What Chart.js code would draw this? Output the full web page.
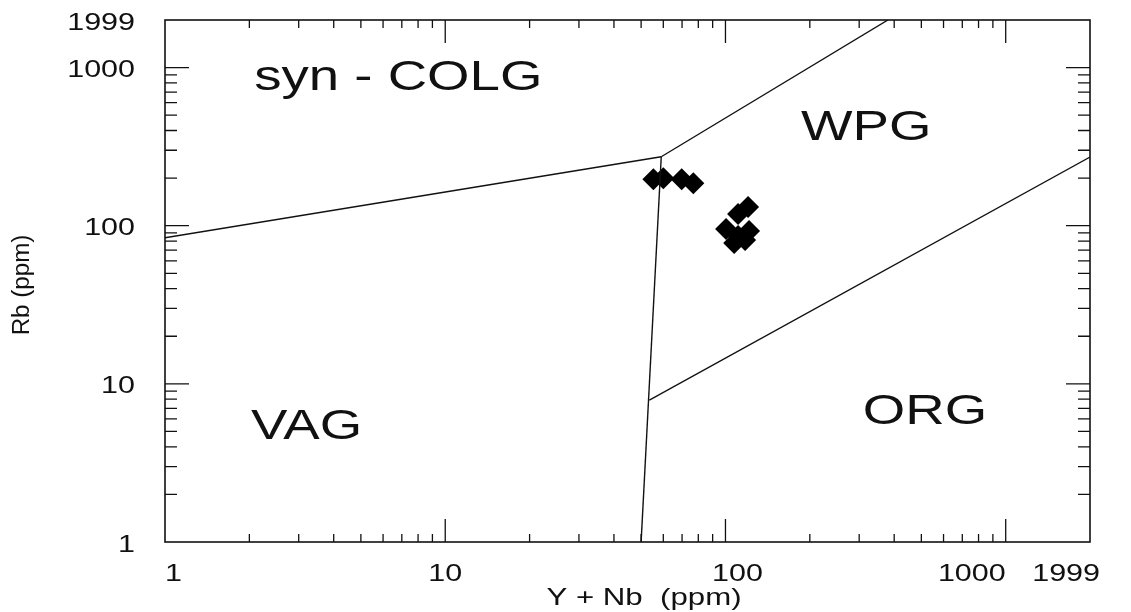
<!DOCTYPE html>
<html>
<head>
<meta charset="utf-8">
<script src="https://cdn.jsdelivr.net/npm/chart.js@4.4.1/dist/chart.umd.min.js"></script>
<style>
  html, body { margin: 0; padding: 0; background: #fff; }
  #wrap { width: 1131px; height: 612px; position: relative; }
</style>
</head>
<body>
<div id="wrap"><canvas id="rbChart"></canvas></div>
<script>
// Axis ticks (log scales, both axes 1 .. 1999)
const tickValues = [1, 10, 100, 1000, 1999];
const tickLabels = ["1", "10", "100", "1000", "1999"];

// Field boundaries, [Y+Nb, Rb]
const colgVagLine = [[1, 84], [59, 273]];
const colgWpgLine = [[59, 273], [380, 1999]];
const vagWpgLine  = [[59, 273], [50, 1]];
const wpgOrgLine  = [[53.5, 7.9], [1999, 272]];

// Samples
const sampleYNb = [55.3, 60.0, 69.8, 76.8, 100.5, 107.4, 121.4, 117.5, 110.9, 110.9, 120.4];
const sampleRb  = [196.8, 199.6, 196.8, 185.7, 95.5, 77.8, 92.7, 81.3, 86.2, 118.8, 131.5];

// Field names and where they sit (data coords)
const fieldNames = ["syn - COLG", "WPG", "VAG", "ORG"];
const fieldX     = [6.8, 318, 3.2, 515];
const fieldY     = [860, 415, 5.3, 6.6];

const FONT = '"Liberation Sans", Arial, sans-serif';

function toPts(arr) {
    return arr.map(p => ({ x: p[0], y: p[1] }));
}

function lineSet(arr) {
    return {
        data: toPts(arr),
        showLine: true,
        borderColor: "#111",
        borderWidth: 1.4,
        pointRadius: 0,
        fill: false
    };
}

// stretched text, the scan font is wide
function wideText(ctx, txt, x, y, size, align, stretch) {
    ctx.save();
    ctx.translate(x, y);
    ctx.scale(stretch, 1);
    ctx.font = size + "px " + FONT;
    ctx.textAlign = align;
    ctx.textBaseline = "middle";
    ctx.fillStyle = "#111";
    ctx.fillText(txt, 0, 0);
    ctx.restore();
}

const framePlugin = {
    id: "frame",
    afterDatasetsDraw(chart) {
        const ctx = chart.ctx;
        const a = chart.chartArea;
        const xs = chart.scales.x, ys = chart.scales.y;

        ctx.save();
        ctx.strokeStyle = "#111";
        ctx.lineWidth = 1.6;
        ctx.strokeRect(a.left, a.top, a.right - a.left, a.bottom - a.top);

        // inward ticks on all four sides
        ctx.lineWidth = 1.3;
        ctx.beginPath();
        for (let d = 1; d <= 1000; d *= 10) {
            for (let m = 1; m <= 9; m++) {
                const v = d * m;
                if (v > 1999) break;
                const major = m === 1;
                const px = xs.getPixelForValue(v);
                const py = ys.getPixelForValue(v);
                const lx = major ? 23 : 8;
                const ly = major ? 24 : 12;
                if (m !== 1 || d !== 1) {
                    ctx.moveTo(px, a.bottom); ctx.lineTo(px, a.bottom - lx);
                    ctx.moveTo(px, a.top);    ctx.lineTo(px, a.top + lx);
                    ctx.moveTo(a.left, py);   ctx.lineTo(a.left + ly, py);
                    ctx.moveTo(a.right, py);  ctx.lineTo(a.right - ly, py);
                }
            }
        }
        ctx.stroke();
        ctx.restore();

        // tick labels
        const xAlign = ["left", "center", "center", "right", "right"];
        const xShift = [0, 0, 12, 0, 10];
        tickValues.forEach((v, i) => {
            wideText(ctx, tickLabels[i], 135, ys.getPixelForValue(v) + 3, 24, "right", 1.27);
            wideText(ctx, tickLabels[i], xs.getPixelForValue(v) + xShift[i], a.bottom + 32, 24, xAlign[i], 1.27);
        });

        // axis titles
        wideText(ctx, "Y + Nb  (ppm)", 644, 598, 24, "center", 1.3);
        ctx.save();
        ctx.translate(23, 285);
        ctx.rotate(-Math.PI / 2);
        wideText(ctx, "Rb (ppm)", 0, 0, 23, "center", 1.05);
        ctx.restore();

        // field names
        fieldNames.forEach((n, i) => {
            wideText(ctx, n, xs.getPixelForValue(fieldX[i]), ys.getPixelForValue(fieldY[i]), 42, "center", 1.3);
        });
    }
};

new Chart(document.getElementById("rbChart"), {
    type: "scatter",
    data: {
        datasets: [
            lineSet(colgVagLine),
            lineSet(colgWpgLine),
            lineSet(vagWpgLine),
            lineSet(wpgOrgLine),
            {
                data: sampleYNb.map((x, i) => ({ x: x, y: sampleRb[i] })),
                pointStyle: "rectRot",
                pointRadius: 11,
                pointBackgroundColor: "#000",
                pointBorderWidth: 0,
                showLine: false
            }
        ]
    },
    options: {
        responsive: true,
        maintainAspectRatio: false,
        animation: false,
        layout: { padding: { left: 165, right: 41, top: 20, bottom: 70 } },
        plugins: {
            legend: { display: false },
            tooltip: { enabled: false }
        },
        scales: {
            x: { type: "logarithmic", min: 1, max: 1999, display: false },
            y: { type: "logarithmic", min: 1, max: 1999, display: false }
        }
    },
    plugins: [framePlugin]
});
</script>
</body>
</html>
